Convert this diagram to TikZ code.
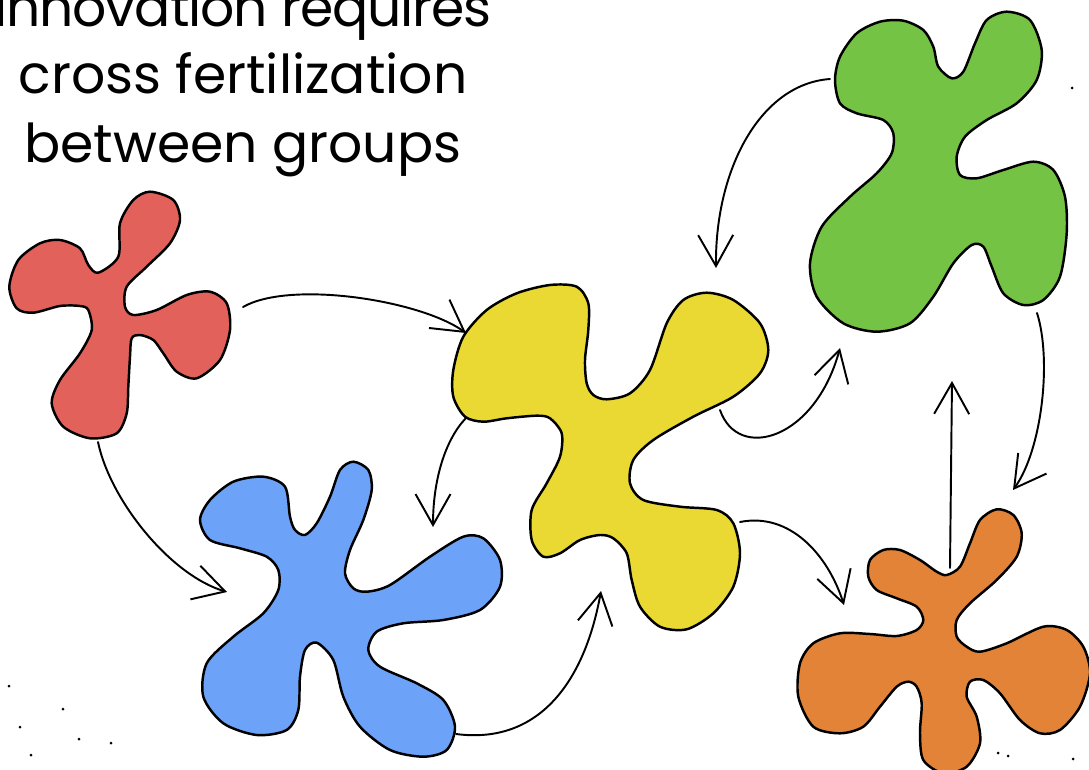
\documentclass[tikz,border=0pt]{standalone}
\usepackage{fontspec}
\setmainfont{Poppins}
\usetikzlibrary{arrows.meta}

\definecolor{redblob}{HTML}{E3615B}
\definecolor{blueblob}{HTML}{6CA2F8}
\definecolor{yellowblob}{HTML}{EAD932}
\definecolor{greenblob}{HTML}{75C345}
\definecolor{orangeblob}{HTML}{E28337}

\tikzset{
    blob/.style={draw=black, line width=1.4pt, line join=round},
    flow/.style={line width=1.1pt, line cap=round,
        -{Straight Barb[length=0.62cm, width=0.7cm, line width=1.1pt]}},
    title/.style={font=\fontsize{30.5}{37}\selectfont, anchor=base, inner sep=0pt},
    speck/.style={fill=black, draw=none}
}

\begin{document}
\begin{tikzpicture}[x=0.02cm, y=-0.02cm]
    \useasboundingbox (0, 0) rectangle (1089, 770);
    \clip (0, 0) rectangle (1089, 770);

    % title
    \node[title] (line1) at (243, 27) {\addfontfeatures{LetterSpace=-2}innovation requires};
    \node[title] (line2) at (243, 94) {cross fertilization};
    \node[title] (line3) at (243, 163) {between groups};

    % red group
    \draw[blob, fill=redblob] plot[smooth cycle] coordinates {
        (98.3,272.7) (118.3,256.7) (120,223.3) (133.3,200) (150,191.7)
        (173.3,200) (180,220) (170,243.3) (146.7,266.7) (126.7,286.7)
        (125,306.7) (133.3,315) (156.7,310) (186.7,295) (210,291.7)
        (226.7,303.3) (230,330) (220,360) (196.7,378.3) (176.7,371.7)
        (163.3,353.3) (153.3,340) (140,335) (131.7,338.3) (130,356.7)
        (128.3,386.7) (126.7,413.3) (116.7,433.3) (90,438.3) (63.3,426.7)
        (51.7,403.3) (60,380) (80,353.3) (91.7,330) (88.3,310)
        (80,306) (60,306) (33.3,312.7) (16.7,308.3) (9.3,286.7)
        (18.3,260) (40,243.3) (60,240) (80,248.3) (88.3,265)};

    % blue group
    \draw[blob, fill=blueblob] plot[smooth cycle] coordinates {
        (305,535) (316.7,523.3) (330,496.7) (340,470) (353.3,461.7)
        (368.3,470) (371.7,490) (363.3,520) (350,550) (345,573.3)
        (353.3,588.3) (366.7,591.7) (390,585) (430,556.7) (463.3,536.7)
        (483.3,538.3) (500,560) (500,586.7) (480,610) (443.3,620)
        (403.3,623.3) (376.7,631.7) (368.3,650) (380,666.7) (416.7,683.3)
        (443.3,700) (455,726.7) (446.7,750) (423.3,756.7) (390,750)
        (360,726.7) (343.3,696.7) (333.3,660) (316.7,642.7) (305,650)
        (300,676.7) (298.3,710) (286.7,730) (256.7,735) (223.3,723.3)
        (203.3,696.7) (206.7,663.3) (233.3,636.7) (263.3,613.3) (278.3,590)
        (278.3,570) (266.7,556.7) (240,548.3) (210,540) (200,520)
        (210,500) (233.3,481.7) (263.3,476.7) (285,486.7) (290,516.7)
        (295,530)};

    % yellow group
    \draw[blob, fill=yellowblob] plot[smooth cycle] coordinates {
        (606.7,399.3) (630,393.3) (650,370) (666.7,323.3) (683.3,300)
        (706.7,292.7) (733.3,300) (760,323.3) (768.3,350) (760,373.3)
        (733.3,396.7) (693.3,416.7) (653.3,440) (633.3,460) (630,483.3)
        (643.3,500) (680,506.7) (716.7,510) (733.3,523.3) (740,553.3)
        (733.3,586.7) (713.3,613.3) (686.7,629.3) (660,626.7) (640,606.7)
        (631.7,580) (626.7,553.3) (613.3,538.3) (600,535) (580,540)
        (560,553.3) (543.3,556.7) (531.7,540) (531.7,510) (546.7,483.3)
        (560,456.7) (561.7,433.3) (550,418.3) (536.7,415.7) (506.7,418.3)
        (483.3,421.7) (465,416.7) (453.3,396.7) (453.3,370) (463.3,336.7)
        (486.7,310) (516.7,293.3) (550,285) (576.7,286.7) (588.3,303.3)
        (588.3,330) (585,360) (586.7,383.3) (593.3,395)};

    % green group
    \draw[blob, fill=greenblob] plot[smooth cycle] coordinates {
        (951.7,78.3) (963.3,71.7) (975,43.3) (986.7,20) (1006.7,11.7)
        (1030,20) (1041.7,50) (1036.7,80) (1016.7,103.3) (986.7,120)
        (965,136.7) (956.7,156.7) (960,175) (976.7,178.3) (1003.3,170)
        (1033.3,161.7) (1053.3,170) (1065,196.7) (1066.7,233.3) (1060,276.7)
        (1043.3,300) (1023.3,305) (1003.3,293.3) (991.7,266.7) (983.3,246.7)
        (971.7,245) (953.3,263.3) (933.3,296.7) (910,323.3) (876.7,331.7)
        (843.3,323.3) (816.7,296.7) (810,263.3) (821.7,226.7) (850,196.7)
        (876.7,173.3) (891.7,153.3) (893.3,133.3) (883.3,120) (856.7,113.3)
        (840,103.3) (835,80) (840,56.7) (856.7,33.3) (880,21.7)
        (903.3,20.7) (923.3,30) (933.3,46.7) (938.3,66.7)};

    % orange group
    \draw[blob, fill=orangeblob] plot[smooth cycle] coordinates {
        (946.7,575) (960,566.7) (970,543.3) (980,520) (996.7,509.3)
        (1013.3,515) (1021.7,533.3) (1016.7,556.7) (996.7,580) (970,603.3)
        (956.7,620) (956.7,636.7) (966.7,646.7) (980,651.7) (1006.7,643.3)
        (1043.3,626.7) (1066.7,630) (1083.3,646.7) (1090,673.3) (1080,706.7)
        (1060,730) (1040,733.3) (1020,720) (1000,693.3) (983.3,680)
        (970,681.7) (966.7,696.7) (976.7,716.7) (980,743.3) (966.7,766.7)
        (943.3,773.3) (923.3,760) (920,733.3) (921.7,703.3) (916.7,686.7)
        (908.3,681.7) (896.7,686.7) (880,706.7) (863.3,726.7) (840,733.3)
        (813.3,726.7) (798.3,696.7) (800,663.3) (813.3,643.3) (840,633.3)
        (870,634) (896.7,636) (916.7,630) (923.3,620) (916.7,606.7)
        (896.7,598.3) (876.7,590) (868.3,576.7) (870,560) (883.3,550)
        (900,550) (920,560) (936.7,571.7)};

    % ends of the arrows
    \coordinate (redE) at (243, 307);
    \coordinate (redS) at (98, 442);
    \coordinate (blueN) at (433, 527);
    \coordinate (blueW) at (227, 592);
    \coordinate (blueSE) at (456, 734);
    \coordinate (yellowNW) at (466, 333);
    \coordinate (yellowW) at (466, 418);
    \coordinate (yellowN) at (716, 268);
    \coordinate (yellowE) at (720, 410);
    \coordinate (yellowSE) at (740, 522);
    \coordinate (yellowS) at (601, 591);
    \coordinate (greenW) at (830, 79);
    \coordinate (greenSW) at (840, 348);
    \coordinate (greenS) at (1037, 313);
    \coordinate (greenB) at (952, 381);
    \coordinate (orangeNW) at (844, 605);
    \coordinate (orangeN) at (1013, 490);
    \coordinate (orangeT) at (950, 568);

    % arrows
    \draw[flow] (redE) .. controls (290, 280) and (420, 300) .. (yellowNW);
    \draw[flow] (redS) .. controls (110, 500) and (170, 575) .. (blueW);
    \draw[flow] (yellowW) .. controls (445, 440) and (433, 480) .. (blueN);
    \draw[flow] (blueSE) .. controls (540, 745) and (585, 680) .. (yellowS);
    \draw[flow] (yellowE) .. controls (738, 462) and (815, 440) .. (greenSW);
    \draw[flow] (yellowSE) .. controls (790, 512) and (828, 555) .. (orangeNW);
    \draw[flow] (greenW) .. controls (760, 84) and (715, 170) .. (yellowN);
    \draw[flow] (greenS) .. controls (1052, 360) and (1042, 450) .. (orangeN);
    \draw[flow] (orangeT) -- (greenB);

    % specks
    \fill[speck] (9, 686) circle (1.5);
    \fill[speck] (63, 709) circle (1.5);
    \fill[speck] (20, 727) circle (1.5);
    \fill[speck] (79, 739) circle (1.5);
    \fill[speck] (111, 743) circle (1.5);
    \fill[speck] (31, 755) circle (1.5);
    \fill[speck] (1072, 88) circle (1.5);
    \fill[speck] (998, 753) circle (1.5);
    \fill[speck] (1008, 756) circle (1.5);
    \fill[speck] (1073, 759) circle (1.5);
\end{tikzpicture}
\end{document}
